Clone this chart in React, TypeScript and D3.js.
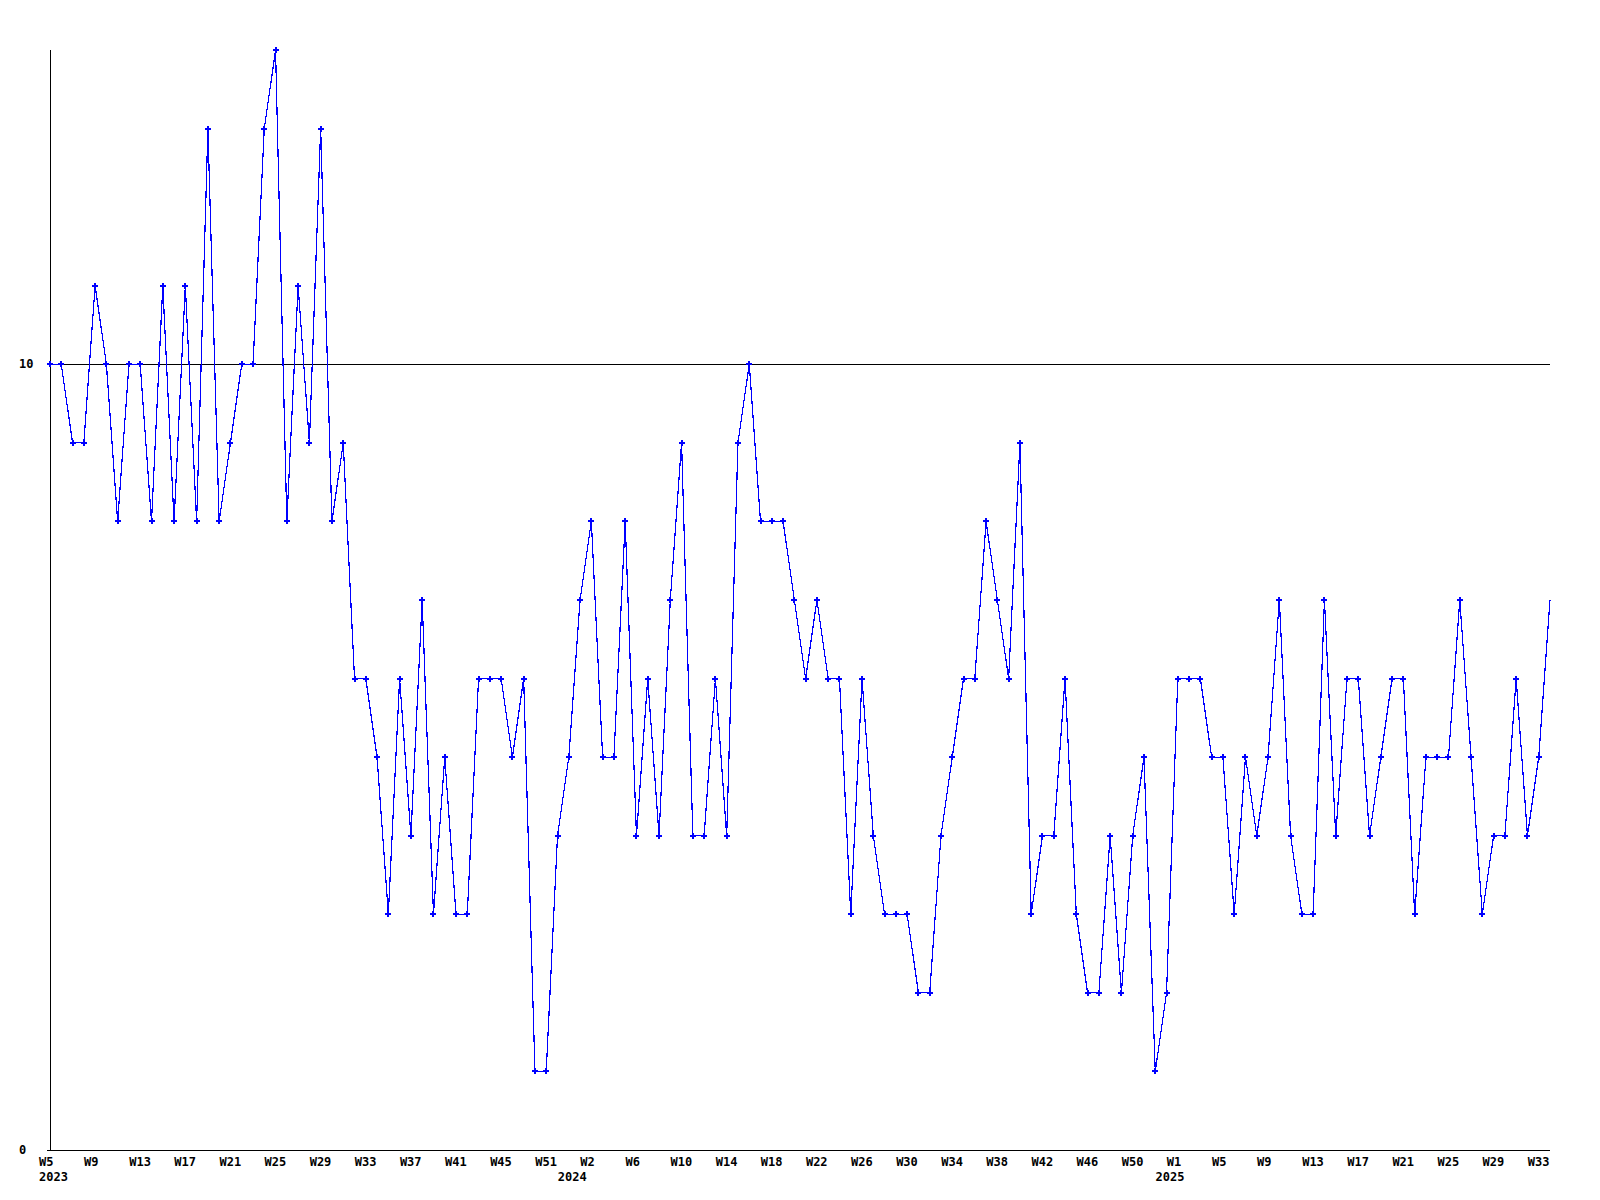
import * as d3 from "d3"

// weekly values, 2023 W5 .. 2025 W34
const values = [
  10, 10, 9, 9, 11, 10, 8, 10, 10, 8, 11, 8, 11, 8, 13, 8, 9, 10, 10, 13,
  14, 8, 11, 9, 13, 8, 9, 6, 6, 5, 3, 6, 4, 7, 3, 5, 3, 3, 6, 6,
  6, 5, 6, 1, 1, 4, 5, 7, 8, 5, 5, 8, 4, 6, 4, 7, 9, 4, 4, 6,
  4, 9, 10, 8, 8, 8, 7, 6, 7, 6, 6, 3, 6, 4, 3, 3, 3, 2, 2, 4,
  5, 6, 6, 8, 7, 6, 9, 3, 4, 4, 6, 3, 2, 2, 4, 2, 4, 5, 1, 2,
  6, 6, 6, 5, 5, 3, 5, 4, 5, 7, 4, 3, 3, 7, 4, 6, 6, 4, 5, 6,
  6, 3, 5, 5, 5, 7, 5, 3, 4, 4, 6, 4, 5, 7,
]

// one label every 4th point
const weekLabels = [
  "W5", "W9", "W13", "W17", "W21", "W25", "W29", "W33", "W37", "W41", "W45", "W51",
  "W2", "W6", "W10", "W14", "W18", "W22", "W26", "W30", "W34", "W38", "W42", "W46", "W50",
  "W1", "W5", "W9", "W13", "W17", "W21", "W25", "W29", "W33",
]
const years = ["2023", "2024", "2025"]
const yearStart = [0, 46, 99]
const yTicks = [0, 10]

const W = 1600
const H = 1200
const left = 50
const right = 1550
const top = 50
const bottom = 1150
const font = "'DejaVu Sans Mono', monospace"

export default function App() {
  const x = d3.scaleLinear().domain([0, values.length - 1]).range([left, right])
  const y = d3.scaleLinear().domain([0, 14]).range([bottom, top])

  const line = d3
    .line<number>()
    .x((_, i) => x(i))
    .y((d) => y(d))

  const marker = d3.symbol(d3.symbolCross, 20)() ?? ""

  return (
    <svg
      width={W}
      height={H}
      style={{ position: "absolute", left: 0, top: 0, background: "#fff" }}
    >
      {/* y gridline + ticks */}
      {yTicks.map((t) => (
        <g key={t}>
          <line
            x1={left - 3}
            x2={right}
            y1={Math.round(y(t)) + 0.5}
            y2={Math.round(y(t)) + 0.5}
            stroke="#000"
            shapeRendering="crispEdges"
          />
          <text
            x={19}
            y={Math.round(y(t)) + 4}
            fontFamily={font}
            fontWeight="bold"
            fontSize={12}
            fill="#000"
          >
            {t}
          </text>
        </g>
      ))}
      <line
        x1={left + 0.5}
        x2={left + 0.5}
        y1={top}
        y2={bottom + 1}
        stroke="#000"
        shapeRendering="crispEdges"
      />

      <path
        d={line(values) ?? ""}
        fill="none"
        stroke="#0000ff"
        strokeWidth={1.2}
        shapeRendering="crispEdges"
      />
      {/* last point sits on the right edge and shows no marker */}
      {values.slice(0, -1).map((v, i) => (
        <path
          key={i}
          d={marker}
          transform={`translate(${x(i)},${y(v)})`}
          fill="#0000ff"
          shapeRendering="crispEdges"
        />
      ))}

      {weekLabels.map((w, k) => (
        <text
          key={k}
          x={x(k * 4) - 11}
          y={1166}
          fontFamily={font}
          fontWeight="bold"
          fontSize={12}
          fill="#000"
        >
          {w}
        </text>
      ))}
      {years.map((yr, k) => (
        <text
          key={yr}
          x={x(yearStart[k]) - 11}
          y={1181}
          fontFamily={font}
          fontWeight="bold"
          fontSize={12}
          fill="#000"
        >
          {yr}
        </text>
      ))}
    </svg>
  )
}
